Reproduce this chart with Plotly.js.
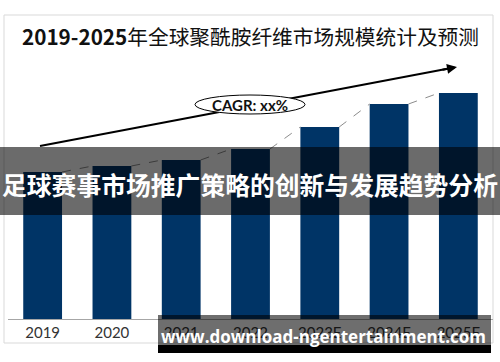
<!DOCTYPE html>
<html>
<head>
<meta charset="utf-8">
<script src="https://cdn.plot.ly/plotly-3.0.1.min.js"></script>
<style>html,body{margin:0;padding:0;background:#fff;}#chart{width:500px;height:362px;}</style>
</head>
<body>
<div id="chart"></div>
<script>
// ---- data ----
const years = ['2019', '2020', '2021', '2022', '2023E', '2024E', '2025E'];
const marketSize = [147, 153, 159, 170, 192, 215, 226];
const chartTitle = '<b>2019-2025</b>年全球聚酰胺纤维市场规模统计及预测';
const cagrLabel = 'CAGR: xx%';
const overlayText = '足球赛事市场推广策略的创新与发展趋势分析';
const watermarkText = 'www.download-ngentertainment.com';

// ---- layout helpers ----
const W = 500, H = 362;
const M = {l: 8, r: 7, t: 19, b: 43};
const plotW = W - M.l - M.r, plotH = H - M.t - M.b;
const px = x => (x - M.l) / plotW;          // pixel x -> paper x
const py = y => (H - M.b - y) / plotH;      // pixel y -> paper y
const barWidth = 0.56;
const hw = barWidth / 2;
const idx = years.map((_, i) => i);

// dashed connector between bar tops
const dx = [], dy = [];
for (let i = 0; i < marketSize.length - 1; i++) {
  dx.push(i + hw, i + 1 - hw, null);
  dy.push(marketSize[i], marketSize[i + 1], null);
}

const traces = [
  {type: 'bar', x: idx, y: marketSize, width: barWidth,
   marker: {color: '#003466'}, hoverinfo: 'skip'},
  {type: 'scatter', mode: 'lines', x: dx, y: dy,
   line: {color: '#8c8c8c', width: 1, dash: 'dash'}, hoverinfo: 'skip', connectgaps: false}
];

const layout = {
  width: W, height: H,
  margin: M,
  paper_bgcolor: '#ffffff', plot_bgcolor: '#ffffff',
  showlegend: false,
  title: {text: chartTitle, x: 0.5, xref: 'paper', y: 1 - 38 / H, yanchor: 'middle',
          font: {family: '"Noto Sans CJK SC", sans-serif', size: 20.7, color: '#111111'}},
  xaxis: {range: [-0.5, years.length - 0.5], tickvals: idx, ticktext: years,
          showgrid: false, zeroline: false, showline: true, linecolor: '#a6a6a6', linewidth: 1,
          ticks: '', tickfont: {family: 'Lato, "Liberation Sans", sans-serif', size: 15, color: '#333333'},
          fixedrange: true},
  yaxis: {range: [0, plotH], visible: false, fixedrange: true},
  shapes: [
    // chart border
    {type: 'rect', xref: 'paper', yref: 'paper', x0: px(4), x1: px(493), y0: py(343), y1: py(15),
     line: {color: '#d9d9d9', width: 1}, fillcolor: 'rgba(0,0,0,0)', layer: 'below'},
    // trend arrow line
    {type: 'line', xref: 'paper', yref: 'paper', x0: px(40), y0: py(146), x1: px(450), y1: py(68.3),
     line: {color: '#000000', width: 2}, layer: 'above'},
    // CAGR ellipse
    {type: 'circle', xref: 'paper', yref: 'paper', x0: px(195), x1: px(305), y0: py(114), y1: py(95),
     line: {color: '#000000', width: 1}, fillcolor: '#ffffff', layer: 'above'},
    // overlay band
    {type: 'rect', xref: 'paper', yref: 'paper', x0: px(0), x1: px(500), y0: py(215), y1: py(147),
     line: {width: 0}, fillcolor: 'rgba(0,0,0,0.58)', layer: 'above'},
    // watermark band
    {type: 'rect', xref: 'paper', yref: 'paper', x0: px(158), x1: px(491), y0: py(345), y1: py(315),
     line: {width: 0}, fillcolor: 'rgba(0,0,0,0.57)', layer: 'above'},
    {type: 'rect', xref: 'paper', yref: 'paper', x0: px(158), x1: px(491), y0: py(353), y1: py(345),
     line: {width: 0}, fillcolor: '#000000', layer: 'above'}
  ],
  annotations: [
    // arrow head
    {xref: 'paper', yref: 'paper', x: px(457), y: py(67), ax: -16, ay: 3, axref: 'pixel', ayref: 'pixel',
     showarrow: true, arrowhead: 2, arrowsize: 1, arrowwidth: 2, arrowcolor: '#000000', text: ''},
    {xref: 'paper', yref: 'paper', x: px(250), y: py(104.5), xanchor: 'center', yanchor: 'middle',
     text: '<b>' + cagrLabel + '</b>', showarrow: false,
     font: {family: 'Lato, "Liberation Sans", sans-serif', size: 15, color: '#111111'}},
    {xref: 'paper', yref: 'paper', x: px(250), y: py(184), xanchor: 'center', yanchor: 'middle',
     text: '<b>' + overlayText + '</b>', showarrow: false,
     font: {family: '"Noto Sans CJK SC", sans-serif', size: 24.8, color: '#ffffff'}},
    {xref: 'paper', yref: 'paper', x: px(323), y: py(336), xanchor: 'center', yanchor: 'middle',
     text: '<b>' + watermarkText + '</b>', showarrow: false,
     font: {family: '"Open Sans", sans-serif', size: 17, color: '#ffffff'}}
  ]
};

Plotly.newPlot('chart', traces, layout, {displayModeBar: false, staticPlot: true});
</script>
</body>
</html>
